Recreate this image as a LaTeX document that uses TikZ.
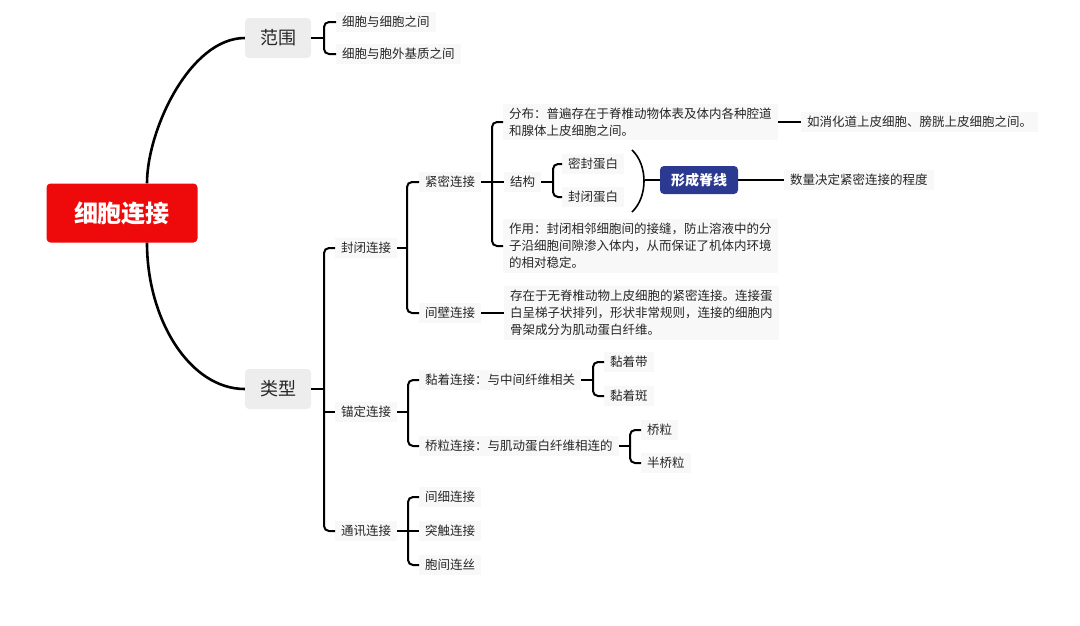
\documentclass[tikz,border=0pt]{standalone}
\usepackage{fontspec}
\setmainfont{Noto Sans CJK SC}
\usetikzlibrary{calc}

\definecolor{rootred}{HTML}{EE0A0A}
\definecolor{topicgray}{HTML}{EDEDED}
\definecolor{ridgeblue}{HTML}{2B3990}
\definecolor{leafgray}{HTML}{F8F8F8}

\tikzset{
  root/.style={fill=rootred, rounded corners=4pt, text=white, font=\fontsize{24}{28}\selectfont\bfseries, minimum width=151pt, minimum height=59pt},
  topic/.style={fill=topicgray, rounded corners=4pt, text=black!85, font=\fontsize{18}{20}\selectfont, minimum width=66pt, minimum height=40pt},
  leaf/.style={fill=leafgray, anchor=west, inner xsep=6pt, inner ysep=4pt, text=black!85, align=left, font=\fontsize{12.5}{17}\selectfont},
  ridge/.style={fill=ridgeblue, rounded corners=4pt, text=white, font=\fontsize{14}{16}\selectfont\bfseries, minimum width=78pt, minimum height=28pt},
  branch/.style={draw, line width=2.6pt},
  brace/.style={draw, line width=2pt, rounded corners=5pt},
}

\begin{document}
\begin{tikzpicture}[x=1pt, y=-1pt]
        \useasboundingbox(0,0)rectangle(1080,625);
        % 中心与主题
        \node[root](cell)at(122,213){细胞连接};
        \node[topic](scope)at(278,38){范围};
        \node[topic](kind)at(278,389){类型};
        % 范围
        \node[leaf](s1)at(336,22){细胞与细胞之间};
        \node[leaf](s2)at(336,54){细胞与胞外基质之间};
        % 类型
        \node[leaf](k1)at(335,248){封闭连接};
        \node[leaf](k2)at(335,412){锚定连接};
        \node[leaf](k3)at(335,531){通讯连接};
        % 封闭连接
        \node[leaf](tj)at(419,182){紧密连接};
        \node[leaf](sj)at(419,313){间壁连接};
        \node[leaf](fb)at(503,122){分布：普遍存在于脊椎动物体表及体内各种腔道\\和腺体上皮细胞之间。};
        \node[leaf](jg)at(504,182){结构};
        \node[leaf](zy)at(503,246){作用：封闭相邻细胞间的接缝，防止溶液中的分\\子沿细胞间隙渗入体内，从而保证了机体内环境\\的相对稳定。};
        \node[leaf](mf)at(562,164){密封蛋白};
        \node[leaf](bb)at(562,197){封闭蛋白};
        \node[ridge](xj)at(699,180){形成脊线};
        \node[leaf](eg)at(801,122){如消化道上皮细胞、膀胱上皮细胞之间。};
        \node[leaf](sl)at(784,180){数量决定紧密连接的程度};
        \node[leaf](sjt)at(504,313){存在于无脊椎动物上皮细胞的紧密连接。连接蛋\\白呈梯子状排列，形状非常规则，连接的细胞内\\骨架成分为肌动蛋白纤维。};
        % 锚定连接
        \node[leaf](aj)at(419,380){黏着连接：与中间纤维相关};
        \node[leaf](dj)at(419,446){桥粒连接：与肌动蛋白纤维相连的};
        \node[leaf](ab)at(604,362){黏着带};
        \node[leaf](ap)at(604,396){黏着斑};
        \node[leaf](qd)at(641,430){桥粒};
        \node[leaf](bq)at(641,463){半桥粒};
        % 通讯连接
        \node[leaf](gj)at(419,497){间细连接};
        \node[leaf](tc)at(419,531){突触连接};
        \node[leaf](jl)at(419,565){胞间连丝};
        % 主干曲线
        \path[branch]([xshift=25pt]cell.north)..controls(147,130)and(190,38)..(scope.west);
        \path[branch]([xshift=25pt]cell.south)..controls(147,320)and(190,389)..(kind.west);
        % 括号
        \coordinate(B1)at(324,38);
        \coordinate(B2)at(324,389);
        \coordinate(B3)at(407,248);
        \coordinate(B4)at(492,182);
        \coordinate(B5)at(553,182);
        \coordinate(B6)at(408,412);
        \coordinate(B7)at(593,380);
        \coordinate(B8)at(630,446);
        \coordinate(B9)at(408,531);
        \path[brace](scope.east)--(B1);
        \path[brace](s1.west)-|(B1)|-(s2.west);
        \path[brace](kind.east)--(B2);
        \path[brace](k1.west)-|(B2)|-(k3.west);
        \path[brace](k2.west-|B2)--(k2.west);
        \path[brace](k1.east)--(B3);
        \path[brace](tj.west)-|(B3)|-(sj.west);
        \path[brace](tj.east)--(B4);
        \path[brace](fb.west)-|(B4)|-(zy.west);
        \path[brace](jg.west-|B4)--(jg.west);
        \path[brace](jg.east)--(B5);
        \path[brace](mf.west)-|(B5)|-(bb.west);
        \path[brace](k2.east)--(B6);
        \path[brace](aj.west)-|(B6)|-(dj.west);
        \path[brace](aj.east)--(B7);
        \path[brace](ab.west)-|(B7)|-(ap.west);
        \path[brace](dj.east)--(B8);
        \path[brace](qd.west)-|(B8)|-(bq.west);
        \path[brace](k3.east)--(B9);
        \path[brace](gj.west)-|(B9)|-(jl.west);
        \path[brace](tc.west-|B9)--(tc.west);
        % 右侧连线
        \path[brace](fb.east)--(eg.west);
        \path[brace](sj.east)--(sjt.west);
        % 圆括号与脊线
        \coordinate(P1)at(632,150);
        \coordinate(P2)at(632,212);
        \coordinate(P3)at(645,180);
        \path[draw, line width=1.6pt](P1)..controls(648,165)and(648,197)..(P2);
        \path[draw, line width=1.6pt](P3)--(xj.west);
        \path[draw, line width=1.6pt](xj.east)--(sl.west);
    \end{tikzpicture}
\end{document}
